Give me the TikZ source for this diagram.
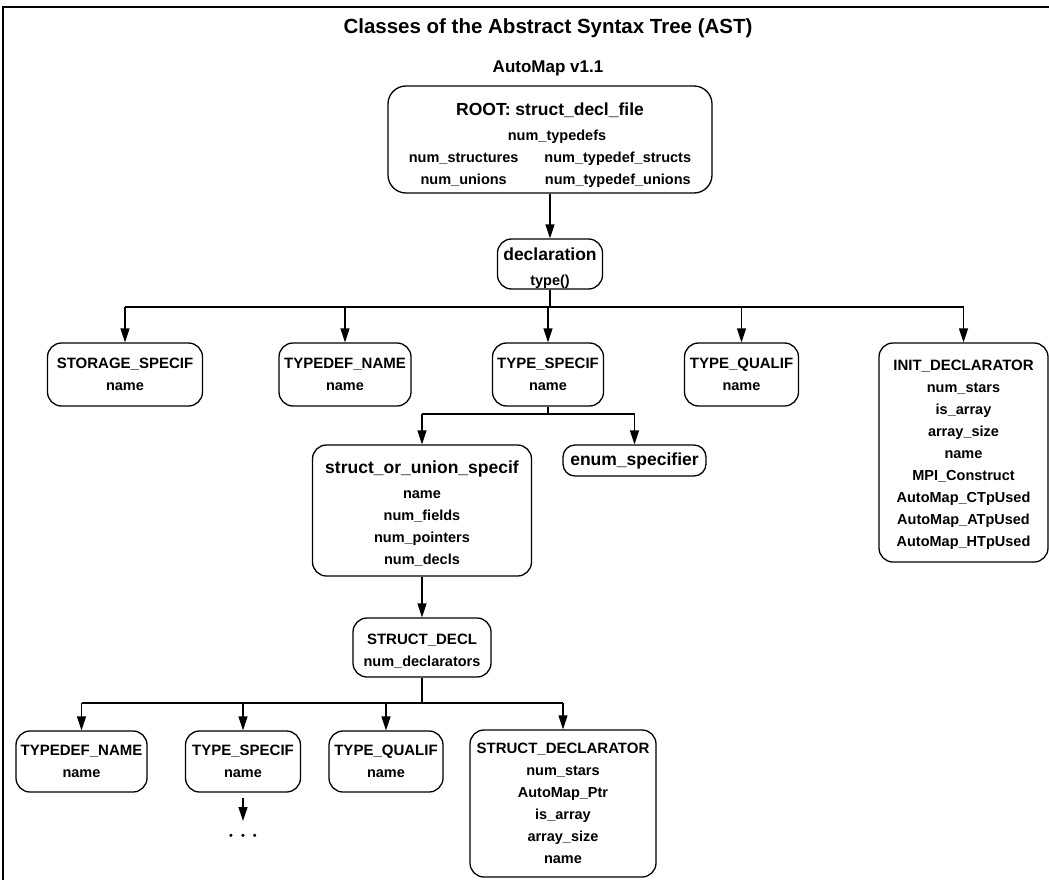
\documentclass[tikz,border=0pt]{standalone}
\usepackage{fontspec}
\setmainfont{Liberation Sans}
\usepackage{tikz}
\usetikzlibrary{arrows.meta}
\newcommand{\attrfont}{\fontsize{14.5}{22}\selectfont\bfseries}
\newcommand{\capsfont}{\fontsize{15}{22}\selectfont\bfseries}
\newcommand{\headfont}{\fontsize{17.5}{20}\selectfont\bfseries}

\begin{document}
\begin{tikzpicture}[x=1pt,y=-1pt,
  cls/.style={draw,line width=1.3pt,rounded corners=14pt,align=center,inner sep=0pt,font=\attrfont},
  link/.style={line width=1.3pt},
  arr/.style={link,-{Triangle[length=14pt,width=9pt]}},
  frame/.style={line width=2.6pt}]
\useasboundingbox (0,0) rectangle (1049,880);
\draw[frame] (3,880) |- (1049,7);

\node[font=\fontsize{20.5}{24}\selectfont\bfseries] (title) at (548,28) {Classes of the Abstract Syntax Tree (AST)};
\node[font=\fontsize{17}{20}\selectfont\bfseries] (version) at (548,68) {AutoMap v1.1};

\node[cls,rounded corners=18pt,minimum width=324pt,minimum height=107pt] (root) at (550,139.5) {%
\begin{tabular}{@{}c@{\hspace{26pt}}c@{}}
\multicolumn{2}{c}{\headfont\rule{0pt}{27pt}ROOT: struct\_decl\_file}\\[3pt]
\multicolumn{2}{c}{\hspace{14pt}num\_typedefs}\\
num\_structures & num\_typedef\_structs\\
num\_unions & num\_typedef\_unions
\end{tabular}};
\node[cls,minimum width=105pt,minimum height=50pt] (decl) at (550,264) {{\headfont\rule{0pt}{21pt}declaration}\\[3pt] type()};

\node[cls,minimum width=155pt,minimum height=63pt] (storage) at (125,374.5) {{\capsfont STORAGE\_SPECIF}\\ name};
\node[cls,minimum width=132pt,minimum height=63pt] (tdname) at (345,374.5) {{\capsfont TYPEDEF\_NAME}\\ name};
\node[cls,minimum width=111pt,minimum height=63pt] (tspec) at (548,374.5) {{\capsfont TYPE\_SPECIF}\\ name};
\node[cls,minimum width=114pt,minimum height=63pt] (tqual) at (741.5,374.5) {{\capsfont TYPE\_QUALIF}\\ name};
\node[cls,minimum width=169pt,minimum height=219pt] (init) at (963.5,452.5) {{\capsfont\rule{0pt}{14pt}INIT\_DECLARATOR}\\ num\_stars\\ is\_array\\ array\_size\\ name\\ MPI\_Construct\\ AutoMap\_CTpUsed\\ AutoMap\_ATpUsed\\ AutoMap\_HTpUsed};

\node[cls,minimum width=219pt,minimum height=131pt] (sous) at (422,510.5) {{\headfont\rule{0pt}{19pt}struct\_or\_union\_specif}\\[3pt] name\\ num\_fields\\ num\_pointers\\ num\_decls};
\node[cls,rounded corners=12pt,font=\headfont,minimum width=143pt,minimum height=31pt] (enum) at (634.5,460.5) {enum\_specifier};
\node[cls,minimum width=138pt,minimum height=59pt] (sdecl) at (422,647.5) {{\capsfont\rule{0pt}{18pt}STRUCT\_DECL}\\ num\_declarators};

\node[cls,minimum width=131pt,minimum height=61pt] (tdname2) at (81.5,761.5) {{\capsfont TYPEDEF\_NAME}\\ name};
\node[cls,minimum width=115pt,minimum height=61pt] (tspec2) at (243,761.5) {{\capsfont TYPE\_SPECIF}\\ name};
\node[cls,minimum width=114pt,minimum height=61pt] (tqual2) at (386,761.5) {{\capsfont TYPE\_QUALIF}\\ name};
\node[cls,minimum width=186pt,minimum height=147pt] (sdeclr) at (563,803.5) {{\capsfont STRUCT\_DECLARATOR}\\ num\_stars\\ AutoMap\_Ptr\\ is\_array\\ array\_size\\ name};
\node[font=\fontsize{11}{13}\selectfont,inner sep=0pt] (more) at (243,837) {\textbullet\hspace{8pt}\textbullet\hspace{8pt}\textbullet};

\coordinate (busA) at (0,307);
\coordinate (busB) at (0,414);
\coordinate (busC) at (0,703);

\draw[arr] (root) -- (decl);
\draw[link] (decl.south) -- (decl.south |- busA);
\draw[link] (busA -| storage) -- (busA -| init);
\foreach \n in {storage,tdname,tspec,tqual,init}
  \draw[arr] (busA -| \n) -- (\n.north);

\draw[link] (tspec.south) -- (tspec.south |- busB);
\draw[link] (busB -| sous) -- (busB -| enum);
\foreach \n in {sous,enum}
  \draw[arr] (busB -| \n) -- (\n.north);

\draw[arr] (sous) -- (sdecl);
\draw[link] (sdecl.south) -- (sdecl.south |- busC);
\draw[link] (busC -| tdname2) -- (busC -| sdeclr);
\foreach \n in {tdname2,tspec2,tqual2,sdeclr}
  \draw[arr] (busC -| \n) -- (\n.north);

\draw[arr] ([yshift=-5pt]tspec2.south) -- ([yshift=16pt]more.center);
\end{tikzpicture}
\end{document}
